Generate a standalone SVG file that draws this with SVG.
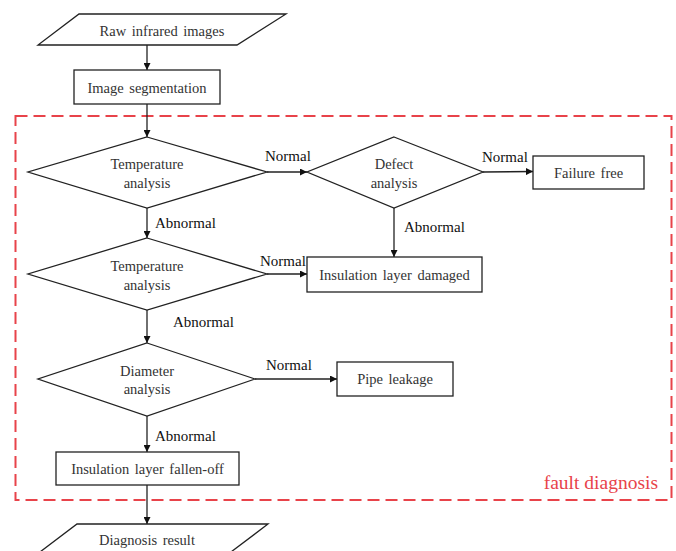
<svg xmlns="http://www.w3.org/2000/svg" width="676" height="551" viewBox="0 0 676 551">
<style>
.shape{fill:#fff;stroke:#222;stroke-width:1.3}
.t{font-family:"Liberation Serif","Times New Roman",serif;font-size:14.5px;fill:#333;text-anchor:middle;dominant-baseline:central;word-spacing:2px}
.lbl{font-family:"Liberation Serif","Times New Roman",serif;font-size:15px;fill:#111;dominant-baseline:central}
.c{fill:none;stroke:#222;stroke-width:1.3;marker-end:url(#ah)}
</style>
<defs>
<marker id="ah" viewBox="0 0 10 10" refX="10" refY="5" markerWidth="7" markerHeight="7" markerUnits="userSpaceOnUse" orient="auto">
<path d="M0,0 L10,5 L0,10 z" fill="#111"/>
</marker>
</defs>
<rect id="fault-diagnosis" x="15.5" y="116" width="656" height="384" fill="none" stroke="#e8434a" stroke-width="2" stroke-dasharray="12 6"/>
<text x="658" y="482" font-family="Liberation Serif,Times New Roman,serif" font-size="19.5" fill="#e8434a" text-anchor="end" dominant-baseline="central">fault diagnosis</text>
<g id="connectors">
<line class="c" x1="147" y1="45" x2="147" y2="70"/>
<line class="c" x1="147" y1="104" x2="147" y2="137"/>
<line class="c" x1="267" y1="172" x2="307" y2="172"/>
<line class="c" x1="483" y1="172" x2="533" y2="171.5"/>
<line class="c" x1="394" y1="208" x2="394" y2="257"/>
<line class="c" x1="147" y1="208" x2="147" y2="238"/>
<line class="c" x1="267" y1="274" x2="307" y2="274"/>
<line class="c" x1="147" y1="310" x2="147" y2="343"/>
<line class="c" x1="255" y1="379" x2="337" y2="379"/>
<line class="c" x1="147" y1="416" x2="147" y2="452"/>
<line class="c" x1="147" y1="485" x2="147" y2="524"/>
<text class="lbl" x="265" y="156">Normal</text>
<text class="lbl" x="482" y="157">Normal</text>
<text class="lbl" x="404" y="227">Abnormal</text>
<text class="lbl" x="155" y="223">Abnormal</text>
<text class="lbl" x="260" y="261">Normal</text>
<text class="lbl" x="173" y="322">Abnormal</text>
<text class="lbl" x="266" y="365">Normal</text>
<text class="lbl" x="155" y="436">Abnormal</text>
</g>
<g id="raw-images">
<polygon class="shape" points="79,14 286,14 237,45 38,45"/>
<text class="t" x="162" y="31">Raw infrared images</text>
</g>
<g id="image-segmentation">
<rect class="shape" x="74" y="70" width="146" height="34"/>
<text class="t" x="147" y="88">Image segmentation</text>
</g>
<g id="temp-analysis-1">
<polygon class="shape" points="147,137 267,172 147,208 28,172"/>
<text class="t" x="147" y="164">Temperature</text>
<text class="t" x="147" y="183">analysis</text>
</g>
<g id="defect-analysis">
<polygon class="shape" points="394,137 483,172 394,208 307,172"/>
<text class="t" x="394" y="164">Defect</text>
<text class="t" x="394" y="183">analysis</text>
</g>
<g id="failure-free">
<rect class="shape" x="533" y="156" width="111" height="33"/>
<text class="t" x="588.5" y="173">Failure free</text>
</g>
<g id="insulation-damaged">
<rect class="shape" x="307" y="257" width="175" height="35"/>
<text class="t" x="394.5" y="275">Insulation layer damaged</text>
</g>
<g id="temp-analysis-2">
<polygon class="shape" points="147,238 267,274 147,310 28,274"/>
<text class="t" x="147" y="266">Temperature</text>
<text class="t" x="147" y="285">analysis</text>
</g>
<g id="diameter-analysis">
<polygon class="shape" points="147,343 255,379 147,416 38,379"/>
<text class="t" x="147" y="371">Diameter</text>
<text class="t" x="147" y="389">analysis</text>
</g>
<g id="pipe-leakage">
<rect class="shape" x="337" y="362" width="116" height="34"/>
<text class="t" x="395" y="379">Pipe leakage</text>
</g>
<g id="insulation-fallen-off">
<rect class="shape" x="56" y="452" width="183" height="33"/>
<text class="t" x="147.5" y="469">Insulation layer fallen-off</text>
</g>
<g id="diagnosis-result">
<polygon class="shape" points="77,524 268,524 227,555 36,555"/>
<text class="t" x="147" y="540">Diagnosis result</text>
</g>
</svg>
